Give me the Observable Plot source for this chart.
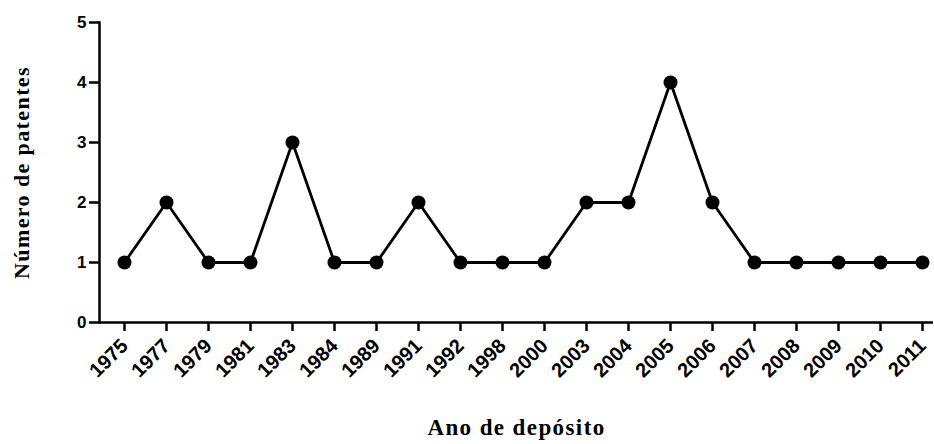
<!DOCTYPE html>
<html>
<head>
<meta charset="utf-8">
<script src="https://cdn.jsdelivr.net/npm/d3@7"></script>
<script src="https://cdn.jsdelivr.net/npm/@observablehq/plot@0.6"></script>
<style>
  html, body { margin: 0; padding: 0; background: #fff; }
</style>
</head>
<body>
<div id="chart"></div>
<script>
const years = ["1975","1977","1979","1981","1983","1984","1989","1991","1992","1998","2000","2003","2004","2005","2006","2007","2008","2009","2010","2011"];
const counts = [1,2,1,1,3,1,1,2,1,1,1,2,2,4,2,1,1,1,1,1];
const yTicks = [0,1,2,3,4,5];
const xTitle = "Ano de depósito";
const yTitle = "Número de patentes";

const data = years.map((y, i) => ({year: y, count: counts[i]}));

const titleFont = "'Liberation Serif', 'Times New Roman', serif";

const chart = Plot.plot({
  width: 934,
  height: 444,
  marginLeft: 99,
  marginRight: 1,
  marginTop: 22,
  marginBottom: 122,
  style: {fontFamily: "'Liberation Sans', Arial, sans-serif", fontWeight: "bold", color: "#000", background: "#fff"},
  x: {type: "point", domain: years, padding: 0, insetLeft: 22, insetRight: 8.7},
  y: {domain: [0, 5]},
  marks: [
    Plot.axisY({ticks: yTicks, tickFormat: d3.format("d"), tickSize: 10, tickPadding: 3, fontSize: 17, fontWeight: "bold", strokeWidth: 2.5, label: null}),
    Plot.axisX({tickSize: 9, tickPadding: 11, tickRotate: -45, fontSize: 20, fontWeight: "bold", strokeWidth: 2.5, label: null}),
    Plot.frame({anchor: "left", strokeWidth: 2.5}),
    Plot.ruleY([0], {strokeWidth: 2.5}),
    Plot.line(data, {x: "year", y: "count", stroke: "#000", strokeWidth: 2.8}),
    Plot.dot(data, {x: "year", y: "count", r: 7, fill: "#000", stroke: "none"}),
    Plot.text([xTitle], {frameAnchor: "bottom", dy: 112, text: d => d, fontFamily: titleFont, fontWeight: "bold", fontSize: 23}),
    Plot.text([yTitle], {frameAnchor: "left", textAnchor: "middle", rotate: -90, dx: -78, text: d => d, fontFamily: titleFont, fontWeight: "bold", fontSize: 22})
  ]
});
d3.select(chart).selectAll("text").each(function() {
  const t = this.textContent;
  if (t === xTitle) d3.select(this).style("letter-spacing", "1.4px");
  if (t === yTitle) d3.select(this).style("letter-spacing", "1.4px");
});
document.getElementById("chart").appendChild(chart);
</script>
</body>
</html>
